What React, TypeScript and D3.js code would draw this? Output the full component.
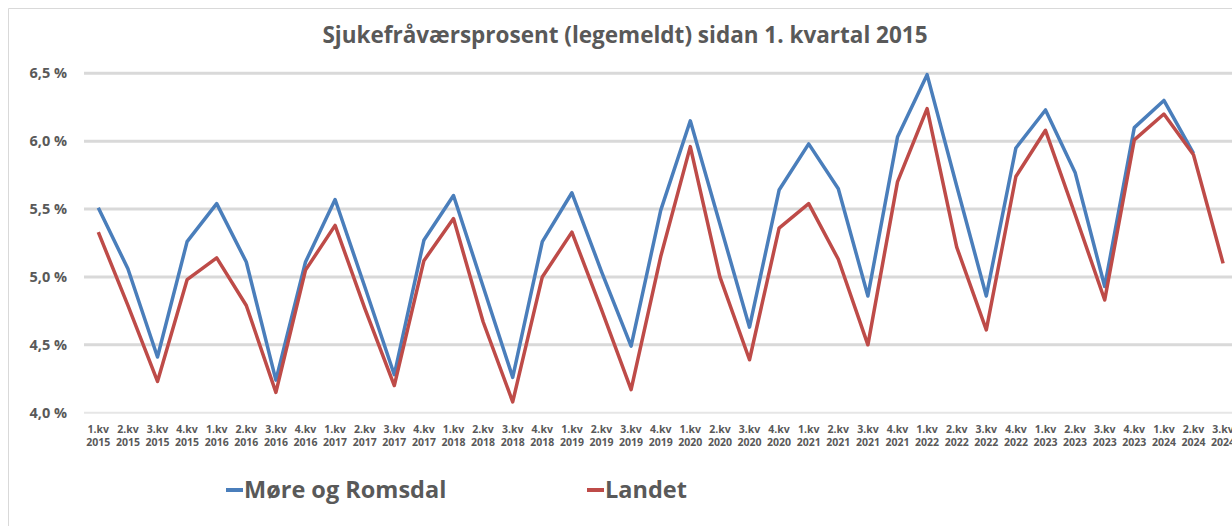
import React from 'react';
import * as d3 from 'd3';

// kvartal labels, 1. kv 2015 - 3. kv 2024
const quarters = ['1.kv', '2.kv', '3.kv', '4.kv'];
const years = ['2015', '2016', '2017', '2018', '2019', '2020', '2021', '2022', '2023', '2024'];
const categories: string[][] = [];
years.forEach((y) => quarters.forEach((q) => categories.push([q, y])));
categories.splice(39); // siste er 3.kv 2024

const moreRomsdal: (number | null)[] = [
  5.51, 5.06, 4.41, 5.26,
  5.54, 5.11, 4.24, 5.11,
  5.57, 4.93, 4.28, 5.27,
  5.60, 4.93, 4.26, 5.26,
  5.62, 5.04, 4.49, 5.49,
  6.15, 5.39, 4.63, 5.64,
  5.98, 5.65, 4.86, 6.03,
  6.49, 5.67, 4.86, 5.95,
  6.23, 5.77, 4.93, 6.10,
  6.30, 5.91, null,
];

const landet: number[] = [
  5.33, 4.79, 4.23, 4.98,
  5.14, 4.79, 4.15, 5.05,
  5.38, 4.77, 4.20, 5.12,
  5.43, 4.67, 4.08, 5.00,
  5.33, 4.76, 4.17, 5.15,
  5.96, 5.00, 4.39, 5.36,
  5.54, 5.13, 4.50, 5.70,
  6.24, 5.22, 4.61, 5.74,
  6.08, 5.46, 4.83, 6.01,
  6.20, 5.90, 5.10,
];

const yTicks = [4.0, 4.5, 5.0, 5.5, 6.0, 6.5];

const series = [
  { name: 'Møre og Romsdal', values: moreRomsdal, color: '#4a7ebb' },
  { name: 'Landet', values: landet, color: '#be4b48' },
];

const W = 1232;
const H = 526;
const font = "'Open Sans', sans-serif";
const textColor = '#595959';

const App = () => {
  const x = d3
    .scaleBand<number>()
    .domain(d3.range(categories.length))
    .range([83.5, 83.5 + 39 * 29.6]);

  const y = d3.scaleLinear().domain([4, 6.5]).range([412.7, 73.3]);

  const line = d3
    .line<number | null>()
    .defined((d) => d != null)
    .x((_, i) => (x(i) as number) + x.bandwidth() / 2)
    .y((d) => y(d as number));

  const fmt = (v: number) => d3.format('.1f')(v).replace('.', ',') + ' %';

  return (
    <div style={{ position: 'fixed', left: 0, top: 0 }}>
      <svg width={W} height={H} style={{ display: 'block', background: '#fff' }}>
        {/* chart border */}
        <path d={`M8.5,${H} V8.5 H${W}`} fill="none" stroke="#d9d9d9" strokeWidth={1} />

        <text
          x={625}
          y={43}
          textAnchor="middle"
          fontFamily={font}
          fontWeight="bold"
          fontSize={22.5}
          fill={textColor}
        >
          Sjukefråværsprosent (legemeldt) sidan 1. kvartal 2015
        </text>

        {/* grid + y labels */}
        {yTicks.map((t) => (
          <g key={t}>
            <line
              x1={84}
              x2={W}
              y1={y(t)}
              y2={y(t)}
              stroke={t === 4 ? '#e6e6e6' : '#d9d9d9'}
              strokeWidth={t === 4 ? 2 : 3}
            />
            <text
              x={67}
              y={y(t)}
              dy="0.35em"
              textAnchor="end"
              fontFamily={font}
              fontWeight="bold"
              fontSize={14.5}
              fill={textColor}
            >
              {fmt(t)}
            </text>
          </g>
        ))}

        {/* x labels */}
        {categories.map((c, i) => {
          const cx = (x(i) as number) + x.bandwidth() / 2;
          return (
            <text
              key={i}
              x={cx}
              textAnchor="middle"
              fontFamily={font}
              fontWeight="bold"
              fontSize={10.5}
              fill={textColor}
            >
              <tspan x={cx} y={433}>{c[0]}</tspan>
              <tspan x={cx} y={446}>{c[1]}</tspan>
            </text>
          );
        })}

        {/* lines */}
        {series.map((s) => (
          <path
            key={s.name}
            d={line(s.values) || ''}
            fill="none"
            stroke={s.color}
            strokeWidth={3.5}
            strokeLinejoin="round"
          />
        ))}

        {/* legend */}
        {series.map((s, i) => {
          const lx = i === 0 ? 226 : 587;
          return (
            <g key={s.name}>
              <line x1={lx} x2={lx + 17} y1={490} y2={490} stroke={s.color} strokeWidth={4} />
              <text
                x={lx + 18}
                y={498}
                fontFamily={font}
                fontWeight="bold"
                fontSize={23.5}
                fill={textColor}
              >
                {s.name}
              </text>
            </g>
          );
        })}
      </svg>
    </div>
  );
};

export default App;
